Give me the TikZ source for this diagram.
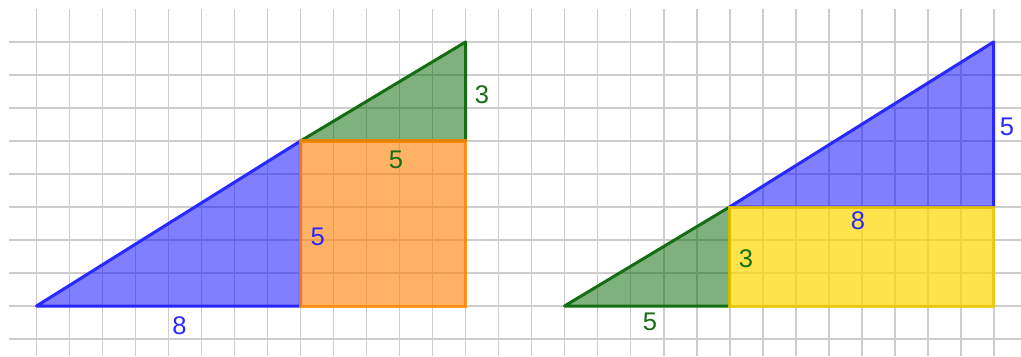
\documentclass[tikz,border=0pt]{standalone}
\usepackage{fontspec}
\setmainfont{Liberation Sans}
\definecolor{gridc}{RGB}{205,205,205}
\definecolor{bluel}{RGB}{40,40,255}
\definecolor{bluef}{RGB}{0,0,255}
\definecolor{greenl}{RGB}{20,110,20}
\definecolor{greenf}{RGB}{0,100,0}
\definecolor{orangel}{RGB}{255,136,0}
\definecolor{orangef}{RGB}{255,127,0}
\definecolor{yellowl}{RGB}{235,200,0}
\definecolor{yellowf}{RGB}{255,215,0}
\tikzset{
  gridline/.style={draw=gridc, line width=1.7pt},
  bluetri/.style={draw=bluel, fill=bluef, fill opacity=0.5, line width=2.6pt, line join=round},
  greentri/.style={draw=greenl, fill=greenf, fill opacity=0.5, line width=2.6pt, line join=round},
  orangesq/.style={draw=orangel, draw opacity=0.85, fill=orangef, fill opacity=0.6, line width=2.6pt},
  yellowsq/.style={draw=yellowl, draw opacity=0.85, fill=yellowf, fill opacity=0.7, line width=2.6pt},
  lab/.style={font=\fontsize{22}{22}\selectfont, inner sep=0pt},
}
\begin{document}
\begin{tikzpicture}[x=1cm,y=1cm]
\useasboundingbox (-1.106,-1.515) rectangle (29.833,9.273);
% grid
\foreach \y in {-1,...,8} \draw[gridline] (-0.833,\y) -- (29.833,\y);
\foreach \x in {0,...,29} \draw[gridline] (\x,9.0) -- (\x,-1.515);
% left figure
\coordinate (A) at (0,0);
\coordinate (B) at (8,0);
\coordinate (C) at (8,5);
\coordinate (D) at (13,5);
\coordinate (E) at (13,8);
\coordinate (F) at (13,0);
\draw[bluetri] (A) -- (B) -- (C) -- cycle;
\draw[greentri] (C) -- (D) -- (E) -- cycle;
\draw[orangesq] (B) -- (F) -- (D) -- (C) -- cycle;
% right figure
\coordinate (P) at (16,0);
\coordinate (Q) at (21,0);
\coordinate (R) at (21,3);
\coordinate (S) at (29,3);
\coordinate (T) at (29,8);
\coordinate (U) at (29,0);
\draw[greentri] (P) -- (Q) -- (R) -- cycle;
\draw[bluetri] (R) -- (S) -- (T) -- cycle;
\draw[yellowsq] (Q) -- (U) -- (S) -- (R) -- cycle;
% labels
\node[lab, text=bluel] (l8) at (4.33,-0.59) {8};
\node[lab, text=bluel] (l5b) at (8.52,2.09) {5};
\node[lab, text=greenl] (l5g) at (10.89,4.42) {5};
\node[lab, text=greenl] (l3) at (13.5,6.39) {3};
\node[lab, text=bluel] (r5b) at (29.41,5.42) {5};
\node[lab, text=bluel] (r8) at (24.89,2.59) {8};
\node[lab, text=greenl] (r3) at (21.5,1.42) {3};
\node[lab, text=greenl] (r5g) at (18.59,-0.48) {5};
\end{tikzpicture}
\end{document}
